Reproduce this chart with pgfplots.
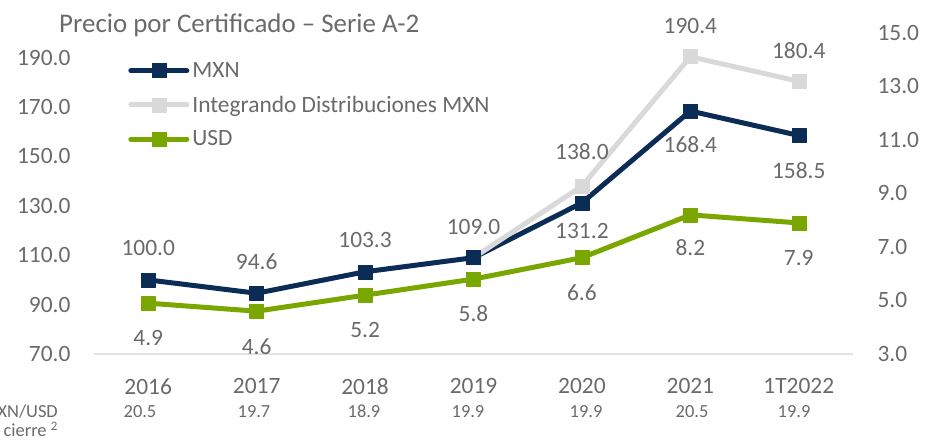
\documentclass[border=0pt]{standalone}
\usepackage{fontspec}
\setmainfont{Carlito}
\usepackage{pgfplots}
\pgfplotsset{compat=1.18}
\definecolor{navy}{HTML}{0B2C55}
\definecolor{lgray}{HTML}{D9D9D9}
\definecolor{lgreen}{HTML}{7AA600}
\definecolor{txt}{HTML}{6A6A6A}
\definecolor{base}{HTML}{E3E3E3}
\newcommand{\bigf}{\fontsize{23.5}{28}\selectfont}
\newcommand{\smf}{\fontsize{18.5}{22}\selectfont}
\begin{document}
\begin{tikzpicture}
\begin{axis}[name=main, scale only axis,
  width=759bp, height=321bp,
  xmin=-0.5, xmax=6.5, ymin=70, ymax=200,
  ytick={70,90,...,190},
  xtick={0,...,6}, xticklabels={2016,2017,2018,2019,2020,2021,1T2022},
  axis x line*=bottom, axis y line*=left,
  x axis line style={-, draw=base, line width=1.5bp},
  y axis line style={draw=none},
  major tick length=0pt, tick style={draw=none},
  ticklabel style={font=\bigf, text=txt},
  yticklabel style={xshift=-20bp, /pgf/number format/fixed, /pgf/number format/fixed zerofill, /pgf/number format/precision=1, /pgf/number format/assume math mode=true},
  xticklabel style={yshift=-21bp},
  point meta=explicit symbolic,
  visualization depends on={value \thisrow{dy} \as \dy},
  every node near coord/.append style={font=\bigf, text=txt, anchor=center, yshift=\dy bp},
  legend style={at={(rel axis cs:0.045,0.915)}, anchor=north west, draw=none, fill=none,
    font=\bigf, text=txt, inner sep=0pt, row sep=13bp, column sep=1bp,
    nodes={inner sep=2bp}},
  legend cell align=left,
  legend image code/.code={\draw[mark repeat=2, mark phase=2, #1] plot coordinates {(0bp,0bp) (28bp,0bp) (56bp,0bp)};},
  clip=false,
]
\addlegendimage{navy, line width=5bp, line cap=round, mark=square*, mark size=7bp, mark options={line width=0.5bp}}
\addlegendentry{MXN}
\addlegendimage{lgray, line width=5bp, line cap=round, mark=square*, mark size=7bp, mark options={line width=0.5bp}}
\addlegendentry{Integrando Distribuciones MXN}
\addlegendimage{lgreen, line width=5bp, line cap=round, mark=square*, mark size=7bp, mark options={line width=0.5bp}}
\addlegendentry{USD}
% MXN
\addplot[forget plot, navy, line width=5bp, line join=round, mark=square*, mark size=7bp, mark options={line width=0.5bp},
  nodes near coords] table[x=x, y=y, meta=lbl] {
x y lbl dy
0 100.0 100.0 32
1 94.6 94.6 32
2 103.3 103.3 32
3 109.0 109.0 31
4 131.2 131.2 -28
5 168.4 168.4 -34
6 158.5 158.5 -35
};
% Integrando line
\addplot[forget plot, lgray, line width=5bp, line join=round, line cap=round] table[x=x, y=y] {
x y
3 109.0
4 138.0
5 190.4
6 180.4
};
% Integrando marks + labels
\addplot[forget plot, only marks, lgray, mark=square*, mark size=7bp, mark options={line width=0.5bp},
  nodes near coords] table[x=x, y=y, meta=lbl] {
x y lbl dy
4 138.0 138.0 34
5 190.4 190.4 31
6 180.4 180.4 31
};
\end{axis}
\begin{axis}[at={(main.south west)}, anchor=south west, scale only axis,
  width=759bp, height=321bp,
  xmin=-0.5, xmax=6.5, ymin=3, ymax=15,
  ytick={3,5,...,15},
  axis x line=none, axis y line*=right,
  y axis line style={draw=none},
  major tick length=0pt, tick style={draw=none},
  ticklabel style={font=\bigf, text=txt},
  yticklabel style={xshift=21bp, /pgf/number format/fixed, /pgf/number format/fixed zerofill, /pgf/number format/precision=1, /pgf/number format/assume math mode=true},
  point meta=explicit symbolic,
  visualization depends on={value \thisrow{dy} \as \dy},
  every node near coord/.append style={font=\bigf, text=txt, anchor=center, yshift=\dy bp},
  clip=false,
]
\addplot[lgreen, line width=5bp, line join=round, mark=square*, mark size=7bp, mark options={line width=0.5bp},
  nodes near coords] table[x=x, y=y, meta=lbl] {
x y lbl dy
0 4.9 4.9 -35
1 4.6 4.6 -35
2 5.2 5.2 -35
3 5.8 5.8 -35
4 6.6 6.6 -35
5 8.2 8.2 -33
6 7.9 7.9 -35
};
\end{axis}
\begin{scope}[shift={(main.south west)}, x=1bp, y=1bp]
\node[anchor=base west, font=\fontsize{27}{32}\selectfont, text=txt, inner sep=0pt] at (-35,321) {Precio por Certificado – Serie A-2};
\foreach \xx/\vv in {46/20.5, 160/19.7, 270/18.9, 374/19.9, 492/19.9, 598/20.5, 700/19.9}
  \node[anchor=base, font=\smf, text=txt, inner sep=0pt] at (\xx,-64) {\vv};
\node[anchor=base east, font=\smf, text=txt, inner sep=0pt] at (-36,-64) {MXN/USD};
\node[anchor=base east, font=\smf, text=txt, inner sep=0pt] at (-36,-83) {cierre \textsuperscript{2}};
\pgfresetboundingbox
\useasboundingbox (-94,-86) rectangle (834,354);
\end{scope}
\end{tikzpicture}
\end{document}
